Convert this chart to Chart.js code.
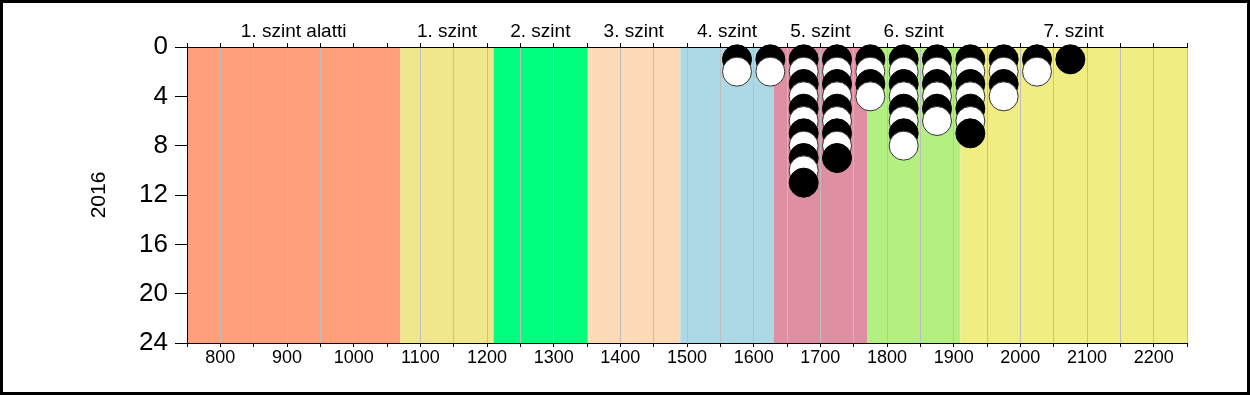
<!DOCTYPE html>
<html>
<head>
<meta charset="utf-8">
<script src="https://cdn.jsdelivr.net/npm/chart.js@4/dist/chart.umd.min.js"></script>
<style>
  html, body { margin: 0; padding: 0; background: #fff; }
  #wrap { width: 1250px; height: 395px; }
</style>
</head>
<body>
<div id="wrap"><canvas id="chart" width="1250" height="395"></canvas></div>
<script>
// level bands
const levelEdges = [750, 1070, 1210, 1350, 1490, 1630, 1770, 1910, 2250];
const levelNames = ['1. szint alatti', '1. szint', '2. szint', '3. szint', '4. szint', '5. szint', '6. szint', '7. szint'];
const levelColors = ['#FFA07A', '#F0E68C', '#00FF7F', '#FFDAB9', '#ADD8E6', '#DE8FA1', '#B4F081', '#F0EE82'];

// students per score bin (2016)
const scores = [1575, 1625, 1675, 1725, 1775, 1825, 1875, 1925, 1975, 2025, 2075];
const counts = [2, 2, 11, 9, 4, 8, 6, 7, 4, 2, 1];

const yTicks = [0, 4, 8, 12, 16, 20, 24];

// one point per student, stacked in its bin
const points = [];
scores.forEach((s, i) => {
    for (let k = 1; k <= counts[i]; k++) points.push({ x: s, y: k });
});

const font = 'Liberation Sans, Arial, sans-serif';

const bandsPlugin = {
    id: 'bands',
    beforeDraw(chart) {
        const { ctx, chartArea, scales } = chart;
        ctx.save();
        for (let i = 0; i < levelNames.length; i++) {
            const x0 = scales.x.getPixelForValue(levelEdges[i]);
            const x1 = scales.x.getPixelForValue(levelEdges[i + 1]);
            ctx.fillStyle = levelColors[i];
            ctx.fillRect(x0, chartArea.top, x1 - x0, chartArea.bottom - chartArea.top);
        }
        ctx.restore();
    },
    afterDraw(chart) {
        const { ctx, scales, width, height } = chart;
        ctx.save();
        ctx.fillStyle = '#000';
        ctx.font = '19px ' + font;
        ctx.textAlign = 'center';
        ctx.textBaseline = 'alphabetic';
        for (let i = 0; i < levelNames.length; i++) {
            const mid = (levelEdges[i] + levelEdges[i + 1]) / 2;
            ctx.fillText(levelNames[i], scales.x.getPixelForValue(mid), 37);
        }
        ctx.lineWidth = 3;
        ctx.strokeStyle = '#000';
        ctx.strokeRect(1.5, 1.5, width - 3, height - 3);
        ctx.restore();
    }
};

new Chart(document.getElementById('chart'), {
    type: 'scatter',
    data: {
        datasets: [{
            data: points,
            clip: false,
            pointRadius: 14.5,
            pointHoverRadius: 14.5,
            borderWidth: 1,
            backgroundColor: c => (c.raw && c.raw.y % 2 === 1) ? '#000' : '#fff',
            borderColor: c => (c.raw && c.raw.y % 2 === 1) ? '#000' : '#333'
        }]
    },
    options: {
        responsive: false,
        animation: false,
        events: [],
        layout: { padding: { left: 0, right: 63, top: 0, bottom: 0 } },
        plugins: { legend: { display: false }, tooltip: { enabled: false } },
        scales: {
            x: {
                type: 'linear',
                position: 'bottom',
                min: 750,
                max: 2250,
                afterFit: s => { s.height = 52; },
                ticks: {
                    stepSize: 50,
                    autoSkip: false,
                    maxRotation: 0,
                    padding: 0,
                    color: '#000',
                    font: { family: font, size: 18 },
                    callback: v => v % 100 === 0 ? String(v) : ''
                },
                grid: { color: '#BEBEBE', tickColor: '#000', tickLength: 4, lineWidth: 1 },
                border: { display: true, color: '#000', width: 1 }
            },
            x2: {
                type: 'linear',
                position: 'top',
                min: 750,
                max: 2250,
                afterFit: s => { s.height = 47; },
                ticks: { stepSize: 50, display: true, callback: () => '', padding: 0 },
                grid: { drawOnChartArea: false, tickColor: '#000', tickLength: 4 },
                border: { display: true, color: '#000', width: 1 }
            },
            y: {
                type: 'linear',
                reverse: true,
                min: 0,
                max: 24,
                afterFit: s => { s.width = 187; },
                afterBuildTicks: s => { s.ticks = yTicks.map(v => ({ value: v })); },
                ticks: {
                    padding: 7,
                    color: '#000',
                    font: { family: font, size: 26 }
                },
                grid: { drawOnChartArea: false, tickColor: '#000', tickLength: 12 },
                border: { display: true, color: '#000', width: 1 },
                title: {
                    display: true,
                    text: '2016',
                    color: '#000',
                    font: { family: font, size: 21 },
                    padding: { top: 87, bottom: 0 }
                }
            }
        }
    },
    plugins: [bandsPlugin]
});
</script>
</body>
</html>
